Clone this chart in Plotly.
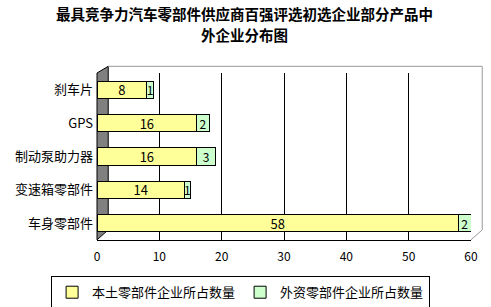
import plotly.graph_objects as go

categories = ["刹车片", "GPS", "制动泵助力器", "变速箱零部件", "车身零部件"]
domestic = [8, 16, 16, 14, 58]
foreign = [1, 2, 3, 1, 2]
series_names = ["本土零部件企业所占数量", "外资零部件企业所占数量"]
x_ticks = [0, 10, 20, 30, 40, 50, 60]
title_lines = ["最具竞争力汽车零部件供应商百强评选初选企业部分产品中", "外企业分布图"]

FONT = "Noto Sans CJK SC, Liberation Sans, sans-serif"

fig = go.Figure()
fig.add_trace(go.Bar(
    y=categories, x=domestic, orientation="h", name=series_names[0],
    marker=dict(color="#FFFF99", line=dict(color="black", width=1)),
    text=domestic, textposition="inside", insidetextanchor="middle", textangle=0,
    textfont=dict(color="black", size=13, family=FONT), constraintext="none",
    width=0.52,
))
fig.add_trace(go.Bar(
    y=categories, x=foreign, orientation="h", name=series_names[1],
    marker=dict(color="#CCFFCC", line=dict(color="black", width=1)),
    text=foreign, textposition="inside", insidetextanchor="middle", textangle=0,
    textfont=dict(color="black", size=12, family=FONT), constraintext="none",
    width=0.52,
))

fig.update_layout(
    barmode="stack",
    width=491, height=307,
    margin=dict(l=97, r=20, t=73, b=65),
    paper_bgcolor="white", plot_bgcolor="white",
    font=dict(family=FONT, size=12, color="black"),
    xaxis=dict(
        range=[0, 60], tickvals=x_ticks, ticktext=[str(t) for t in x_ticks],
        showgrid=True, gridcolor="black", gridwidth=1,
        showline=True, linecolor="black", linewidth=1,
        ticks="", zeroline=False, tickfont=dict(size=12, family=FONT),
        ticklabelstandoff=6, fixedrange=True,
    ),
    yaxis=dict(
        autorange="reversed", showgrid=False, ticks="",
        showline=False, tickfont=dict(size=13, family=FONT),
        ticksuffix=" ",
    ),
    legend=dict(
        orientation="h", x=0.49, xref="container", xanchor="center",
        y=0.048, yref="container", yanchor="middle",
        bordercolor="black", borderwidth=1, bgcolor="white",
        font=dict(size=13, family=FONT), itemwidth=30, traceorder="normal",
        itemclick=False,
    ),
    showlegend=True,
    annotations=[
        dict(text="<b>%s</b>" % title_lines[0], xref="paper", yref="paper",
             x=0.395, y=1.355, xanchor="center", yanchor="middle", showarrow=False,
             borderpad=0, font=dict(size=14.5, family=FONT, color="black")),
        dict(text="<b>%s</b>" % title_lines[1], xref="paper", yref="paper",
             x=0.395, y=1.23, xanchor="center", yanchor="middle", showarrow=False,
             borderpad=0, font=dict(size=14.5, family=FONT, color="black")),
    ],
)

# decorative 3D-style walls (paper coords)
fig.add_shape(type="path", xref="paper", yref="paper",
              path="M 0 0 L 0 1 L 0.03 1.04 L 0.03 0.06 Z",
              fillcolor="#808080", line=dict(color="black", width=1), layer="below")
fig.add_shape(type="path", xref="paper", yref="paper",
              path="M 0.03 1.04 L 1.03 1.04 L 1.03 0.06",
              line=dict(color="#999999", width=1), layer="below")
fig.add_shape(type="path", xref="paper", yref="paper",
              path="M 1.0 0 L 1.03 0.06",
              line=dict(color="#999999", width=1), layer="below")

fig.write_html("out.html")
